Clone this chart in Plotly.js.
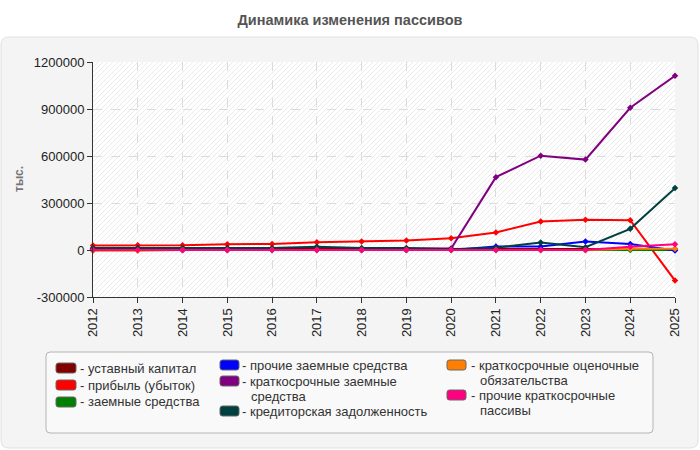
<!DOCTYPE html>
<html>
<head>
<meta charset="utf-8">
<script src="https://cdn.plot.ly/plotly-3.0.1.min.js"></script>
<style>
  html, body { margin: 0; padding: 0; background: #ffffff; }
  #chart { width: 700px; height: 450px; }
</style>
</head>
<body>
<div id="chart"></div>
<script>
// Years on the x axis
const years = [2012, 2013, 2014, 2015, 2016, 2017, 2018, 2019, 2020, 2021, 2022, 2023, 2024, 2025];

// Liability items, thousand roubles
const seriesNames = [
  'уставный капитал',
  'прибыль (убыток)',
  'заемные средства',
  'прочие заемные средства',
  'краткосрочные заемные средства',
  'кредиторская задолженность',
  'краткосрочные оценочные обязательства',
  'прочие краткосрочные пассивы'
];
const ustavnyKapital     = [8000, 8000, 8000, 8000, 8000, 8000, 8000, 8000, 8000, 8000, 8000, 8000, 6000, 6000];
const pribyl             = [29000, 30000, 30000, 37000, 38000, 50000, 55000, 60000, 75000, 112000, 182000, 193000, 190000, -195000];
const zaemnye            = [0, 0, 0, 0, 0, 0, 0, 0, 0, 0, 0, 0, 0, 0];
const prochieZaemnye     = [0, 0, 0, 0, 0, 0, 0, 0, 0, 22000, 22000, 54000, 38000, -3000];
const kratkZaemnye       = [0, 0, 0, 0, 0, 0, 0, 10000, 10000, 465000, 602000, 577000, 908000, 1112000];
const kreditorskaya      = [12000, 12000, 12000, 12000, 12000, 20000, 12000, 12000, 5000, 15000, 48000, 18000, 135000, 395000];
const ocenochnye         = [-5000, -5000, 0, 0, 0, 0, 0, 0, 0, 0, 0, 0, 8000, 8000];
const prochieKratk       = [0, 0, 0, 0, 0, 0, 0, 0, 0, 0, 0, 0, 20000, 37000];

const seriesValues = [ustavnyKapital, pribyl, zaemnye, prochieZaemnye, kratkZaemnye, kreditorskaya, ocenochnye, prochieKratk];
const seriesColors = ['#800000', '#ff0000', '#008000', '#0000ff', '#800080', '#004040', '#ff8000', '#ff0080'];

// Y axis ticks
const yTickVals = [-300000, 0, 300000, 600000, 900000, 1200000];
const yTickText = ['-300000', '0', '300000', '600000', '900000', '1200000'];

// ---- plot geometry (pixels) ----
const W = 700, H = 450;
const M = { l: 93, r: 25, t: 62, b: 153 };
const PW = W - M.l - M.r, PH = H - M.t - M.b;
const px = x => (x - M.l) / PW;          // page x -> paper x
const py = y => (H - M.b - y) / PH;      // page y -> paper y

const FONT = 'Liberation Sans, Arial, Helvetica, sans-serif';

// Line traces
const traces = seriesNames.map((name, i) => ({
  type: 'scatter',
  mode: 'lines+markers',
  name: name,
  x: years,
  y: seriesValues[i],
  line: { color: seriesColors[i], width: 2 },
  marker: { color: seriesColors[i], symbol: 'diamond', size: 5 },
  cliponaxis: false,
  showlegend: false,
  hoverinfo: 'x+y+name'
}));

// Hatched plot background (diagonal stripes)
const hatchSvg =
  '<svg xmlns="http://www.w3.org/2000/svg" width="' + PW + '" height="' + PH + '" viewBox="0 0 ' + PW + ' ' + PH + '" preserveAspectRatio="none">' +
  '<defs><pattern id="h" patternUnits="userSpaceOnUse" width="5" height="5">' +
  '<rect width="5" height="5" fill="#ffffff"/>' +
  '<path d="M-1,1 L1,-1 M0,5 L5,0 M4,6 L6,4" stroke="#ebebeb" stroke-width="1"/>' +
  '</pattern></defs>' +
  '<rect width="100%" height="100%" fill="url(#h)"/></svg>';
const hatchUri = 'data:image/svg+xml;charset=utf-8,' + encodeURIComponent(hatchSvg);

const xMin = years[0], xMax = years[years.length - 1];
const yMin = yTickVals[0], yMax = yTickVals[yTickVals.length - 1];

// Rounded rectangle path in paper coordinates
function roundRect(x0, y0, x1, y1, r) {
  const rx = r / PW, ry = r / PH;
  const X0 = px(x0), X1 = px(x1), Y0 = py(y0), Y1 = py(y1); // Y0 top, Y1 bottom
  return 'M' + (X0 + rx) + ',' + Y0 +
    ' L' + (X1 - rx) + ',' + Y0 + ' Q' + X1 + ',' + Y0 + ' ' + X1 + ',' + (Y0 - ry) +
    ' L' + X1 + ',' + (Y1 + ry) + ' Q' + X1 + ',' + Y1 + ' ' + (X1 - rx) + ',' + Y1 +
    ' L' + (X0 + rx) + ',' + Y1 + ' Q' + X0 + ',' + Y1 + ' ' + X0 + ',' + (Y1 + ry) +
    ' L' + X0 + ',' + (Y0 - ry) + ' Q' + X0 + ',' + Y0 + ' ' + (X0 + rx) + ',' + Y0 + ' Z';
}

const shapes = [];
// outer panel
shapes.push({ type: 'path', xref: 'paper', yref: 'paper', layer: 'below',
  path: roundRect(1, 37, 698, 448, 8),
  fillcolor: '#f4f4f4', line: { color: '#e0e0e0', width: 1 } });
// plain (unhatched) bands between alternate y ticks
for (let k = 1; k < yTickVals.length - 1; k += 2) {
  shapes.push({ type: 'rect', xref: 'x', yref: 'y', layer: 'below',
    x0: xMin, x1: xMax, y0: yTickVals[k], y1: yTickVals[k + 1],
    fillcolor: '#fcfcf4', line: { width: 0 } });
}
// light frame around the plot area (top and right)
shapes.push({ type: 'line', xref: 'x', yref: 'y', x0: xMin, x1: xMax, y0: yMax, y1: yMax,
  line: { color: '#dddddd', width: 1 }, layer: 'below' });
shapes.push({ type: 'line', xref: 'x', yref: 'y', x0: xMax, x1: xMax, y0: yMin, y1: yMax,
  line: { color: '#dddddd', width: 1 }, layer: 'below' });
// legend box
shapes.push({ type: 'path', xref: 'paper', yref: 'paper', layer: 'above',
  path: roundRect(46, 352, 653, 433, 4),
  fillcolor: '#f9f9f9', line: { color: '#b4b4b4', width: 1 } });

const annotations = [];
// y axis caption
annotations.push({ xref: 'paper', yref: 'paper', x: px(19), y: py(179),
  text: 'тыс.', showarrow: false, textangle: -90,
  font: { family: FONT, size: 12, color: '#777777', weight: 'bold' },
  xanchor: 'center', yanchor: 'middle' });

// Legend: three columns, entries drawn as swatch + text lines
const LEG_FONT = 13;
const LEG_LINE = 15;
const legendCols = [
  { sx: 56, sw: 20, tx: 78 },
  { sx: 220, sw: 19, tx: 240 },
  { sx: 447, sw: 19, tx: 469 }
];
// [column, y of first line centre, wrapped label lines]
const legendSlots = [
  [0, 368, null],
  [0, 385, null],
  [0, 402, null],
  [1, 365, null],
  [1, 381, ['краткосрочные заемные', 'средства']],
  [1, 411, null],
  [2, 365, ['краткосрочные оценочные', 'обязательства']],
  [2, 395, ['прочие краткосрочные', 'пассивы']]
];
const dashWidth = 8.5; // width of the "- " prefix at LEG_FONT
seriesNames.forEach((name, i) => {
  const [c, cy, wrapped] = legendSlots[i];
  const col = legendCols[c];
  shapes.push({ type: 'path', xref: 'paper', yref: 'paper', layer: 'above',
    path: roundRect(col.sx, cy - 5, col.sx + col.sw, cy + 5, 2.5),
    fillcolor: seriesColors[i], line: { color: '#666666', width: 1 } });
  const lines = wrapped ? wrapped : [name];
  lines.forEach((l, j) => {
    annotations.push({ xref: 'paper', yref: 'paper',
      x: px(col.tx + (j === 0 ? 0 : dashWidth)), y: py(cy + j * LEG_LINE),
      xanchor: 'left', yanchor: 'middle', align: 'left', showarrow: false,
      text: j === 0 ? '- ' + l : l,
      font: { family: FONT, size: LEG_FONT, color: '#333333' } });
  });
});

const layout = {
  width: W, height: H,
  margin: M,
  paper_bgcolor: 'rgba(0,0,0,0)',
  plot_bgcolor: 'rgba(0,0,0,0)',
  title: {
    text: 'Динамика изменения пассивов',
    font: { family: FONT, size: 14.5, color: '#555555', weight: 'bold' },
    x: 0.5, xanchor: 'center', xref: 'container',
    y: 1 - 20 / H, yanchor: 'middle', yref: 'container'
  },
  showlegend: false,
  xaxis: {
    type: 'linear',
    range: [xMin, xMax],
    tickvals: years,
    ticktext: years.map(String),
    tickangle: -90,
    ticks: 'outside', ticklen: 5, tickcolor: '#333333',
    showline: true, linecolor: '#333333', linewidth: 1,
    showgrid: true, gridcolor: '#dcdcdc', griddash: 'dash', gridwidth: 1,
    zeroline: false,
    tickfont: { family: FONT, size: 13, color: '#222222' },
    fixedrange: true
  },
  yaxis: {
    range: [yMin, yMax],
    tickvals: yTickVals,
    ticktext: yTickText,
    ticks: 'outside', ticklen: 5, tickcolor: '#333333',
    showline: true, linecolor: '#333333', linewidth: 1,
    showgrid: true, gridcolor: '#dcdcdc', griddash: 'dash', gridwidth: 1,
    zeroline: false,
    tickfont: { family: FONT, size: 13, color: '#222222' },
    fixedrange: true
  },
  images: [{
    source: hatchUri, xref: 'x', yref: 'y',
    x: xMin, y: yMax, sizex: xMax - xMin, sizey: yMax - yMin,
    xanchor: 'left', yanchor: 'top', sizing: 'stretch', layer: 'below'
  }],
  shapes: shapes,
  annotations: annotations
};

Plotly.newPlot('chart', traces, layout, { displayModeBar: false, staticPlot: true });
</script>
</body>
</html>
